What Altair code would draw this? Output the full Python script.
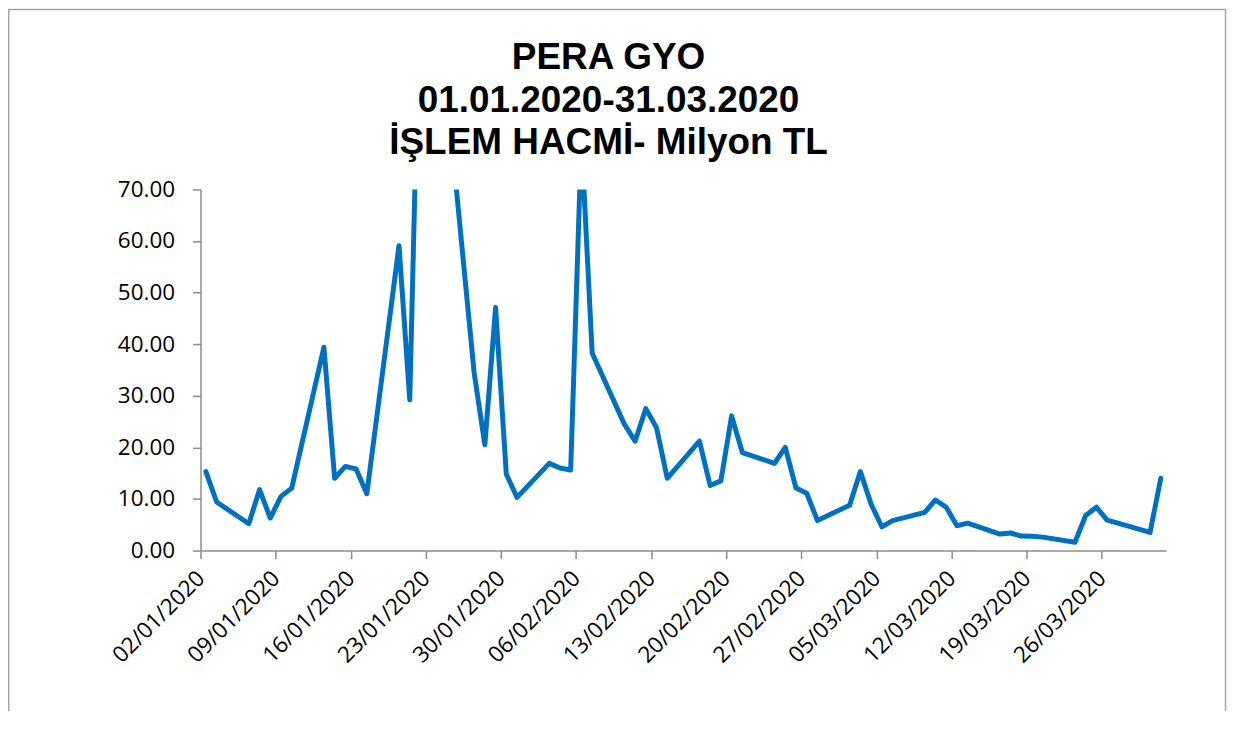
import altair as alt
import pandas as pd

# ---- data ----
dates = ["02/01/2020","03/01/2020","06/01/2020","07/01/2020","08/01/2020","09/01/2020","10/01/2020",
         "13/01/2020","14/01/2020","15/01/2020","16/01/2020","17/01/2020",
         "20/01/2020","21/01/2020","22/01/2020","23/01/2020","24/01/2020",
         "27/01/2020","28/01/2020","29/01/2020","30/01/2020","31/01/2020",
         "03/02/2020","04/02/2020","05/02/2020","06/02/2020","07/02/2020",
         "10/02/2020","11/02/2020","12/02/2020","13/02/2020","14/02/2020",
         "17/02/2020","18/02/2020","19/02/2020","20/02/2020","21/02/2020",
         "24/02/2020","25/02/2020","26/02/2020","27/02/2020","28/02/2020",
         "02/03/2020","03/03/2020","04/03/2020","05/03/2020","06/03/2020",
         "09/03/2020","10/03/2020","11/03/2020","12/03/2020","13/03/2020",
         "16/03/2020","17/03/2020","18/03/2020","19/03/2020","20/03/2020",
         "23/03/2020","24/03/2020","25/03/2020","26/03/2020","27/03/2020",
         "30/03/2020","31/03/2020"]
volume = [15.3, 9.4, 5.2, 11.8, 6.3, 10.5, 12.1,
          39.4, 14.0, 16.3, 15.8, 11.0,
          59.1, 29.2, 115.0, 120.0, 99.0,
          34.5, 20.5, 47.1, 14.8, 10.3,
          16.9, 16.0, 15.6, 80.0, 38.3,
          24.5, 21.2, 27.5, 23.8, 14.0,
          21.2, 12.6, 13.5, 26.1, 19.0,
          16.9, 20.0, 12.1, 11.1, 5.8,
          8.8, 15.3, 9.0, 4.6, 5.8,
          7.4, 9.8, 8.4, 4.8, 5.3,
          3.2, 3.4, 2.8, 2.75, 2.6,
          1.6, 6.8, 8.4, 5.9, 5.3,
          3.5, 14.0]
tick_labels = ["02/01/2020","09/01/2020","16/01/2020","23/01/2020","30/01/2020","06/02/2020",
               "13/02/2020","20/02/2020","27/02/2020","05/03/2020","12/03/2020","19/03/2020",
               "26/03/2020"]
y_ticks = [0, 10, 20, 30, 40, 50, 60, 70]
title_lines = ["PERA GYO", "01.01.2020-31.03.2020", "İŞLEM HACMİ- Milyon TL"]

start = pd.Timestamp("2020-01-02")
dt = pd.to_datetime(dates, format="%d/%m/%Y")
df = pd.DataFrame({
    "date": dates,
    "day": [(d - start).days + 0.5 for d in dt],
    "volume": volume,
})
tick_vals = [(pd.to_datetime(t, format="%d/%m/%Y") - start).days for t in tick_labels]
label_expr = "[" + ",".join("'" + t + "'" for t in tick_labels) + "][round(datum.value/7)]"

AXIS_GRAY = "#8c8c8c"

line = alt.Chart(df).mark_line(
    color="#0070C0", strokeWidth=5, clip=True, strokeJoin="round", strokeCap="round"
).encode(
    x=alt.X("day:Q",
            scale=alt.Scale(domain=[0, 90], nice=False, zero=False),
            axis=alt.Axis(values=tick_vals, labelExpr=label_expr, labelAngle=-45,
                          labelAlign="right", labelBaseline="middle", labelOverlap=False,
                          labelPadding=16, title=None, grid=False)),
    y=alt.Y("volume:Q",
            scale=alt.Scale(domain=[0, 70], nice=False),
            axis=alt.Axis(values=y_ticks, format=".2f", labelPadding=18,
                          labelOverlap=False, title=None, grid=False)),
)

one = pd.DataFrame({"a": [0]})

border = alt.Chart(one).mark_rect(
    fill=None, stroke="#a6a6a6", strokeWidth=1.5, clip=False
).encode(
    x=alt.value(-192.25), x2=alt.value(1027.5), y=alt.value(-180.25), y2=alt.value(700)
)

title = alt.Chart(one).mark_text(
    text=title_lines, font="Liberation Sans", fontWeight="bold", fontSize=37,
    lineHeight=43, align="center", baseline="alphabetic", color="black", clip=False
).encode(
    x=alt.value(409), y=alt.value(-121)
)

chart = alt.layer(border, title, line).properties(
    width=968, height=362,
    padding={"left": 193, "top": 181, "right": 65, "bottom": 160},
    autosize=alt.AutoSizeParams(type="none"),
).configure_view(stroke=None).configure_axis(
    domainColor=AXIS_GRAY, domainWidth=1.5, tickColor=AXIS_GRAY, tickWidth=1.5, tickSize=8,
    labelFont="Open Sans", labelFontSize=22.5, labelColor="black"
)

chart.save("out.html", embed_options={"renderer": "svg", "actions": False})
